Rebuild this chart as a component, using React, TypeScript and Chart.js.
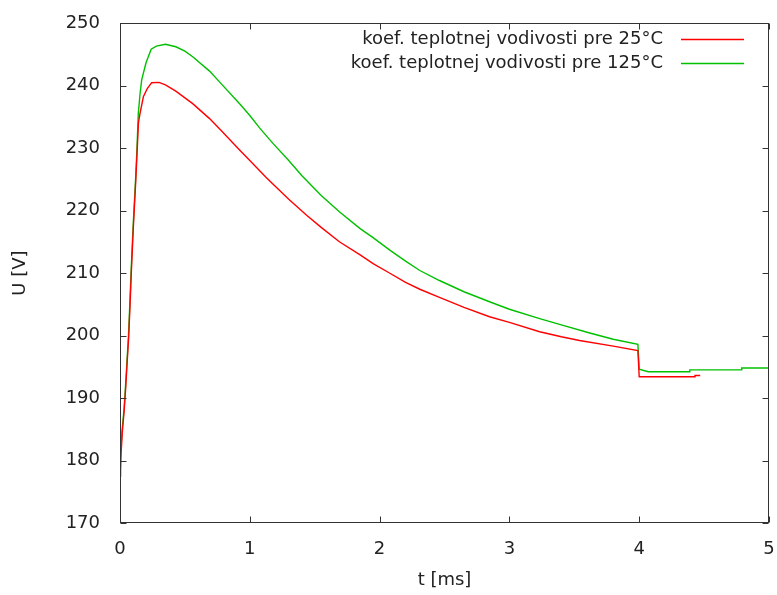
import React, { useEffect, useRef } from "react";
import { Chart, registerables } from "chart.js";

Chart.register(...registerables);

const seriesNames = [
  "koef. teplotnej vodivosti pre 25°C",
  "koef. teplotnej vodivosti pre 125°C",
];

const tRed = [0, 0.008, 0.018, 0.033, 0.044, 0.056, 0.067, 0.079, 0.087, 0.102, 0.122, 0.132, 0.142, 0.154, 0.18, 0.21, 0.244, 0.3, 0.35, 0.43, 0.56, 0.69, 0.77, 0.925, 1.0, 1.13, 1.3, 1.44, 1.55, 1.69, 1.85, 1.95, 2.076, 2.2, 2.31, 2.461, 2.65, 2.847, 3.0, 3.233, 3.4, 3.54, 3.8, 3.99, 4.0, 4.43, 4.43, 4.47];
const uRed = [177.5, 181, 184.6, 188.2, 191.7, 196, 199.8, 205.7, 210, 217, 225, 229.5, 234, 235.5, 238.2, 239.5, 240.45, 240.5, 240.1, 239.1, 237.1, 234.7, 233.0, 229.6, 228.0, 225.2, 221.8, 219.2, 217.3, 215.0, 212.9, 211.5, 210.0, 208.5, 207.4, 206.1, 204.5, 203.0, 202.1, 200.6, 199.8, 199.2, 198.3, 197.6, 193.4, 193.4, 193.6, 193.6];

const tGreen = [0, 0.005, 0.015, 0.031, 0.042, 0.054, 0.065, 0.077, 0.085, 0.1, 0.12, 0.13, 0.141, 0.155, 0.167, 0.2, 0.24, 0.28, 0.35, 0.43, 0.5, 0.56, 0.69, 0.77, 0.925, 1.0, 1.08, 1.18, 1.3, 1.4, 1.55, 1.69, 1.85, 1.947, 2.076, 2.2, 2.31, 2.461, 2.65, 2.847, 3.0, 3.233, 3.4, 3.619, 3.8, 3.99, 4.0, 4.07, 4.39, 4.39, 4.79, 4.79, 5.0];
const uGreen = [177.5, 181, 184.6, 188.2, 191.7, 196, 199.8, 205.7, 210, 217, 225, 229.5, 235.5, 238.8, 240.9, 243.6, 245.8, 246.3, 246.6, 246.2, 245.5, 244.6, 242.3, 240.5, 237.0, 235.2, 233.1, 230.7, 228.0, 225.6, 222.4, 219.8, 217.1, 215.7, 213.7, 211.9, 210.4, 208.8, 207, 205.4, 204.2, 202.7, 201.7, 200.4, 199.4, 198.6, 194.6, 194.2, 194.2, 194.5, 194.5, 194.8, 194.8];

const seriesColors = ["#ff0000", "#00c000"];

const xTicks = [0, 1, 2, 3, 4, 5];
const yTicks = [170, 180, 190, 200, 210, 220, 230, 240, 250];

const FONT = "DejaVu Sans";
const TEXT = "#222";

const framePlugin = {
  id: "frame",
  afterDraw(chart: any) {
    const { ctx, chartArea } = chart;
    const { left, right, top, bottom } = chartArea;
    const xs = chart.scales.x;
    const ys = chart.scales.y;
    ctx.save();
    ctx.strokeStyle = "#333";
    ctx.lineWidth = 1;
    const L = Math.round(left) + 0.5;
    const R = Math.round(right) - 0.5;
    const T = Math.round(top) + 0.5;
    const B = Math.round(bottom) - 0.5;
    ctx.strokeRect(L, T, R - L, B - T);
    const tl = 6;
    ctx.beginPath();
    xTicks.forEach((v) => {
      const px = Math.round(xs.getPixelForValue(v)) + 0.5;
      ctx.moveTo(px, B);
      ctx.lineTo(px, B - tl);
      ctx.moveTo(px, T);
      ctx.lineTo(px, T + tl);
    });
    yTicks.forEach((v) => {
      const py = Math.round(ys.getPixelForValue(v)) + 0.5;
      ctx.moveTo(L, py);
      ctx.lineTo(L + tl, py);
      ctx.moveTo(R, py);
      ctx.lineTo(R - tl, py);
    });
    ctx.stroke();

    // gnuplot-style legend
    ctx.font = `18px "${FONT}"`;
    ctx.fillStyle = TEXT;
    ctx.textAlign = "right";
    ctx.textBaseline = "middle";
    seriesNames.forEach((name, i) => {
      const y = 39 + i * 24;
      ctx.fillText(name, 663, y);
      ctx.beginPath();
      ctx.strokeStyle = seriesColors[i];
      ctx.lineWidth = 1.4;
      ctx.moveTo(681, y + 0.5);
      ctx.lineTo(744, y + 0.5);
      ctx.stroke();
    });
    ctx.restore();
  },
};

export default function App() {
  const ref = useRef<HTMLCanvasElement>(null);
  useEffect(() => {
    if (!ref.current) return;
    const chart = new Chart(ref.current, {
      type: "line",
      data: {
        datasets: [
          {
            label: seriesNames[0],
            data: tRed.map((t, i) => ({ x: t, y: uRed[i] })),
            borderColor: seriesColors[0],
            borderWidth: 1.4,
            pointRadius: 0,
            fill: false,
            tension: 0,
          },
          {
            label: seriesNames[1],
            data: tGreen.map((t, i) => ({ x: t, y: uGreen[i] })),
            borderColor: seriesColors[1],
            borderWidth: 1.4,
            pointRadius: 0,
            fill: false,
            tension: 0,
          },
        ],
      },
      options: {
        responsive: false,
        animation: false,
        layout: { padding: { top: 23, right: 8, left: 0, bottom: 0 } },
        plugins: {
          legend: { display: false },
          tooltip: { enabled: false },
        },
        scales: {
          x: {
            type: "linear",
            min: 0,
            max: 5,
            afterFit: (s: any) => {
              s.height = 72;
              s.paddingLeft = 0;
              s.paddingRight = 0;
            },
            afterBuildTicks: (s: any) => {
              s.ticks = xTicks.map((v) => ({ value: v }));
            },
            grid: { display: false, drawTicks: false },
            border: { display: false },
            ticks: {
              padding: 16,
              font: { family: FONT, size: 18 },
              color: TEXT,
              maxRotation: 0,
            },
            title: {
              display: true,
              text: "t [ms]",
              font: { family: FONT, size: 18 },
              color: TEXT,
              padding: { top: 0, bottom: 4 },
            },
          },
          y: {
            type: "linear",
            min: 170,
            max: 250,
            afterFit: (s: any) => {
              s.width = 120;
              s.paddingTop = 0;
              s.paddingBottom = 0;
            },
            afterBuildTicks: (s: any) => {
              s.ticks = yTicks.map((v) => ({ value: v }));
            },
            grid: { display: false, drawTicks: false },
            border: { display: false },
            ticks: {
              padding: 20,
              font: { family: FONT, size: 18 },
              color: TEXT,
            },
            title: {
              display: true,
              text: "U [V]",
              font: { family: FONT, size: 18 },
              color: TEXT,
              padding: { top: 10, bottom: 0 },
            },
          },
        },
      },
      plugins: [framePlugin],
    });
    return () => chart.destroy();
  }, []);
  return (
    <div style={{ position: "absolute", left: 0, top: 0, width: 777, height: 595, background: "#fff" }}>
      <canvas ref={ref} width={777} height={595} />
    </div>
  );
}
